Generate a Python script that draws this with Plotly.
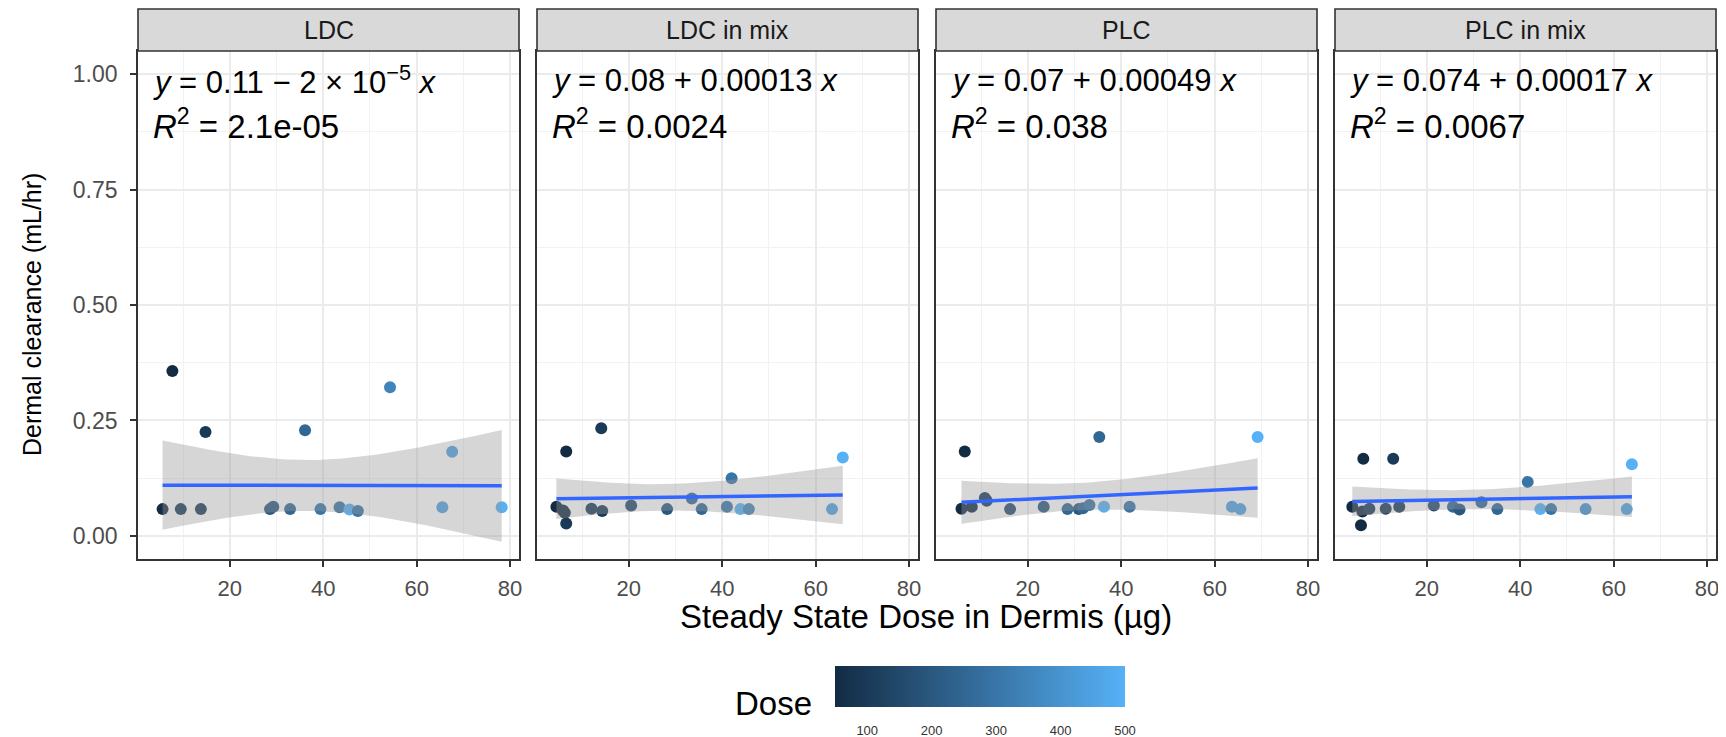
import numpy as np
import plotly.graph_objects as go

# ---------------- data ----------------
panels = ["LDC", "LDC in mix", "PLC", "PLC in mix"]

ldc_x = [5.6, 7.7, 9.5, 13.8, 14.8, 28.6, 29.3, 32.9, 36.1, 39.4, 43.5, 45.6, 47.4, 54.3, 65.5, 67.6, 78.2]
ldc_y = [0.058, 0.357, 0.058, 0.058, 0.225, 0.058, 0.063, 0.058, 0.229, 0.058, 0.062, 0.057, 0.054, 0.322, 0.062, 0.182, 0.062]
ldc_dose = [50, 50, 100, 100, 100, 200, 200, 250, 250, 300, 300, 500, 300, 350, 450, 450, 500]

ldcmix_x = [4.5, 5.9, 6.3, 6.6, 6.6, 12.0, 14.1, 14.3, 20.5, 28.2, 33.5, 35.6, 41.0, 42.0, 43.9, 45.7, 63.5, 65.8]
ldcmix_y = [0.063, 0.055, 0.050, 0.183, 0.027, 0.059, 0.233, 0.054, 0.066, 0.058, 0.081, 0.058, 0.063, 0.125, 0.058, 0.058, 0.058, 0.170]
ldcmix_dose = [50, 50, 50, 50, 100, 100, 100, 100, 150, 200, 250, 250, 300, 300, 500, 350, 450, 500]

plc_x = [5.8, 6.5, 8.0, 10.8, 11.2, 16.2, 23.4, 28.5, 30.9, 31.8, 33.2, 35.3, 36.3, 41.8, 63.7, 65.5, 69.2]
plc_y = [0.059, 0.183, 0.063, 0.082, 0.076, 0.058, 0.063, 0.058, 0.058, 0.060, 0.067, 0.214, 0.063, 0.063, 0.063, 0.058, 0.214]
plc_dose = [50, 50, 50, 100, 100, 150, 200, 250, 200, 250, 300, 250, 500, 300, 450, 450, 500]

plcmix_x = [4.05, 5.9, 6.4, 6.2, 7.7, 11.2, 12.8, 14.1, 21.5, 25.6, 27.0, 31.7, 35.1, 41.6, 44.3, 46.6, 54.0, 62.8, 63.9]
plcmix_y = [0.063, 0.023, 0.167, 0.053, 0.059, 0.059, 0.167, 0.063, 0.066, 0.063, 0.057, 0.073, 0.058, 0.117, 0.058, 0.058, 0.058, 0.058, 0.155]
plcmix_dose = [50, 50, 50, 50, 100, 100, 100, 100, 150, 250, 200, 250, 250, 300, 500, 300, 400, 450, 500]

# fitted coefficients as printed on the chart
fit_intercepts = [0.11, 0.08, 0.07, 0.074]
fit_slopes = [-2e-5, 0.00013, 0.00049, 0.00017]

eq_labels = [
    "<i>y</i> = 0.11 \u2212 2 \u00d7 10<sup>\u22125</sup> <i>x</i>",
    "<i>y</i> = 0.08 + 0.00013 <i>x</i>",
    "<i>y</i> = 0.07 + 0.00049 <i>x</i>",
    "<i>y</i> = 0.074 + 0.00017 <i>x</i>",
]
r2_labels = [
    "<i>R</i><sup>2</sup> = 2.1e-05",
    "<i>R</i><sup>2</sup> = 0.0024",
    "<i>R</i><sup>2</sup> = 0.038",
    "<i>R</i><sup>2</sup> = 0.0067",
]

y_ticks = [0.0, 0.25, 0.5, 0.75, 1.0]
y_ticktext = ["0.00", "0.25", "0.50", "0.75", "1.00"]
x_ticks = [20, 40, 60, 80]
dose_ticks = [100, 200, 300, 400, 500]
dose_min, dose_max = 50, 500

series = [
    (ldc_x, ldc_y, ldc_dose),
    (ldcmix_x, ldcmix_y, ldcmix_dose),
    (plc_x, plc_y, plc_dose),
    (plcmix_x, plcmix_y, plcmix_dose),
]

# ---------------- styling ----------------
OFF = 8  # page body margin
W, H = 1726 - OFF, 737 - OFF
ML, MR, MT, MB = 130, 10, 43, 178
PW = W - ML - MR
PH = H - MT - MB
panel_w = 381
panel_offsets = [0, 399, 798, 1197]
strip_h = 42
FONT = "Liberation Sans"
LOW, HIGH = "#132B43", "#56B1F7"
colorscale = [[0, LOW], [1, HIGH]]


def sx(xs):
    return (xs - OFF - ML) / PW


def sy(ys):
    return (MT + PH - (ys - OFF)) / PH


def t975(df):
    z = 1.959964
    return (z + (z**3 + z) / (4 * df) + (5 * z**5 + 16 * z**3 + 3 * z) / (96 * df**2)
            + (3 * z**7 + 19 * z**5 + 17 * z**3 - 15 * z) / (384 * df**3))


def lm_band(x, y, b0, b1, n=80):
    x = np.asarray(x, float)
    y = np.asarray(y, float)
    res = y - (b0 + b1 * x)
    dfree = len(x) - 2
    s = np.sqrt(np.sum(res**2) / dfree)
    xs = np.linspace(x.min(), x.max(), n)
    fit = b0 + b1 * xs
    se = s * np.sqrt(1 / len(x) + (xs - x.mean())**2 / np.sum((x - x.mean())**2))
    t = t975(dfree)
    return xs, fit, fit - t * se, fit + t * se


allx = np.concatenate([np.asarray(s[0], float) for s in series])
xr = allx.max() - allx.min()
x_range = [allx.min() - 0.05 * xr, allx.max() + 0.05 * xr]

fig = go.Figure()
layout = {}
shapes = []
annotations = []

for i, (xs_, ys_, ds_) in enumerate(series):
    k = "" if i == 0 else str(i + 1)
    xa, ya = "x" + k, "y" + k
    fig.add_trace(go.Scatter(
        x=xs_, y=ys_, mode="markers", xaxis=xa, yaxis=ya,
        marker=dict(color=ds_, coloraxis="coloraxis", size=12, line=dict(width=0)),
        showlegend=False, hoverinfo="skip"))
    bx, bf, blo, bhi = lm_band(xs_, ys_, fit_intercepts[i], fit_slopes[i])
    fig.add_trace(go.Scatter(
        x=np.concatenate([bx, bx[::-1]]), y=np.concatenate([bhi, blo[::-1]]),
        xaxis=xa, yaxis=ya, fill="toself", fillcolor="rgba(153,153,153,0.4)",
        line=dict(width=0), mode="lines", showlegend=False, hoverinfo="skip"))
    fig.add_trace(go.Scatter(
        x=bx, y=bf, xaxis=xa, yaxis=ya, mode="lines",
        line=dict(color="#3366FF", width=3.5), showlegend=False, hoverinfo="skip"))

    d0 = panel_offsets[i] / PW
    d1 = (panel_offsets[i] + panel_w) / PW
    layout["xaxis" + k] = dict(
        domain=[d0, d1], anchor=ya, range=x_range, tickvals=x_ticks,
        showgrid=True, gridcolor="#EBEBEB", gridwidth=1.5, zeroline=False,
        minor=dict(dtick=10, tick0=0, showgrid=True, gridcolor="#F2F2F2", gridwidth=1),
        showline=True, mirror=True, linecolor="#333333", linewidth=1.6,
        ticks="outside", ticklen=6, tickwidth=1.5, tickcolor="#333333",
        tickfont=dict(family=FONT, size=22, color="#4D4D4D"), ticklabelstandoff=3)
    layout["yaxis" + k] = dict(
        domain=[0, 1], anchor=xa, range=[-0.05, 1.05], tickvals=y_ticks,
        ticktext=y_ticktext, showticklabels=(i == 0),
        showgrid=True, gridcolor="#EBEBEB", gridwidth=1.5, zeroline=False,
        minor=dict(dtick=0.125, tick0=0, showgrid=True, gridcolor="#F2F2F2", gridwidth=1),
        showline=True, mirror=True, linecolor="#333333", linewidth=1.6,
        ticks="outside" if i == 0 else "", ticklen=6, tickwidth=1.5, tickcolor="#333333",
        tickfont=dict(family=FONT, size=23, color="#4D4D4D"), ticklabelstandoff=8)

    shapes.append(dict(type="rect", xref=xa + " domain", yref="paper",
                       x0=0, x1=1, y0=1, y1=1 + strip_h / PH,
                       fillcolor="#D9D9D9", line=dict(color="#333333", width=1.6), layer="above"))
    annotations.append(dict(text=panels[i], xref=xa + " domain", yref="paper",
                            x=0.5, y=1 + strip_h / 2 / PH, xanchor="center", yanchor="middle",
                            showarrow=False, font=dict(family=FONT, size=25, color="#1A1A1A")))
    annotations.append(dict(text=eq_labels[i], xref=xa + " domain", yref="paper",
                            x=0.034, y=sy(80), xanchor="left", yanchor="middle",
                            showarrow=False, font=dict(family=FONT, size=31, color="#000000")))
    annotations.append(dict(text=r2_labels[i], xref=xa + " domain", yref="paper",
                            x=0.034, y=sy(124), xanchor="left", yanchor="middle",
                            showarrow=False, font=dict(family=FONT, size=33, color="#000000")))

# axis titles and legend title
annotations.append(dict(text="Steady State Dose in Dermis (\u00b5g)", xref="paper", yref="paper",
                        x=sx(926), y=sy(616), xanchor="center", yanchor="middle",
                        showarrow=False, font=dict(family=FONT, size=33, color="#000000")))
annotations.append(dict(text="Dermal clearance (mL/hr)", xref="paper", yref="paper",
                        x=sx(32), y=sy(315), textangle=-90,
                        xanchor="center", yanchor="middle",
                        showarrow=False, font=dict(family=FONT, size=25, color="#000000")))
annotations.append(dict(text="Dose", xref="paper", yref="paper",
                        x=sx(814), y=sy(703), xanchor="right", yanchor="middle",
                        showarrow=False, font=dict(family=FONT, size=33, color="#000000")))

cb_common = dict(orientation="h", x=sx(980), xanchor="center", y=sy(666), yanchor="top",
                 len=290, lenmode="pixels", thickness=41, thicknessmode="pixels",
                 xpad=0, ypad=0, outlinewidth=0, tickvals=dose_ticks)

# white tick marks on the colour bar (bottom and top edges)
for pos in ["outside", "outside top"]:
    fig.add_trace(go.Scatter(
        x=[None], y=[None], mode="markers", showlegend=False, hoverinfo="skip",
        marker=dict(color=[dose_min], cmin=dose_min, cmax=dose_max, colorscale=colorscale,
                    showscale=True,
                    colorbar=dict(**cb_common, ticks="inside", ticklen=8, tickwidth=2,
                                  tickcolor="white", showticklabels=False,
                                  ticklabelposition=pos))))

layout.update(
    width=W, height=H,
    margin=dict(l=ML, r=MR, t=MT, b=MB, autoexpand=False),
    paper_bgcolor="white", plot_bgcolor="white",
    showlegend=False,
    coloraxis=dict(cmin=dose_min, cmax=dose_max, colorscale=colorscale,
                   colorbar=dict(**cb_common, ticks="outside", ticklen=13,
                                 tickcolor="rgba(0,0,0,0)",
                                 tickfont=dict(family=FONT, size=13, color="#333333"))),
    shapes=shapes, annotations=annotations,
)
fig.update_layout(**layout)
fig.write_html("out.html")
